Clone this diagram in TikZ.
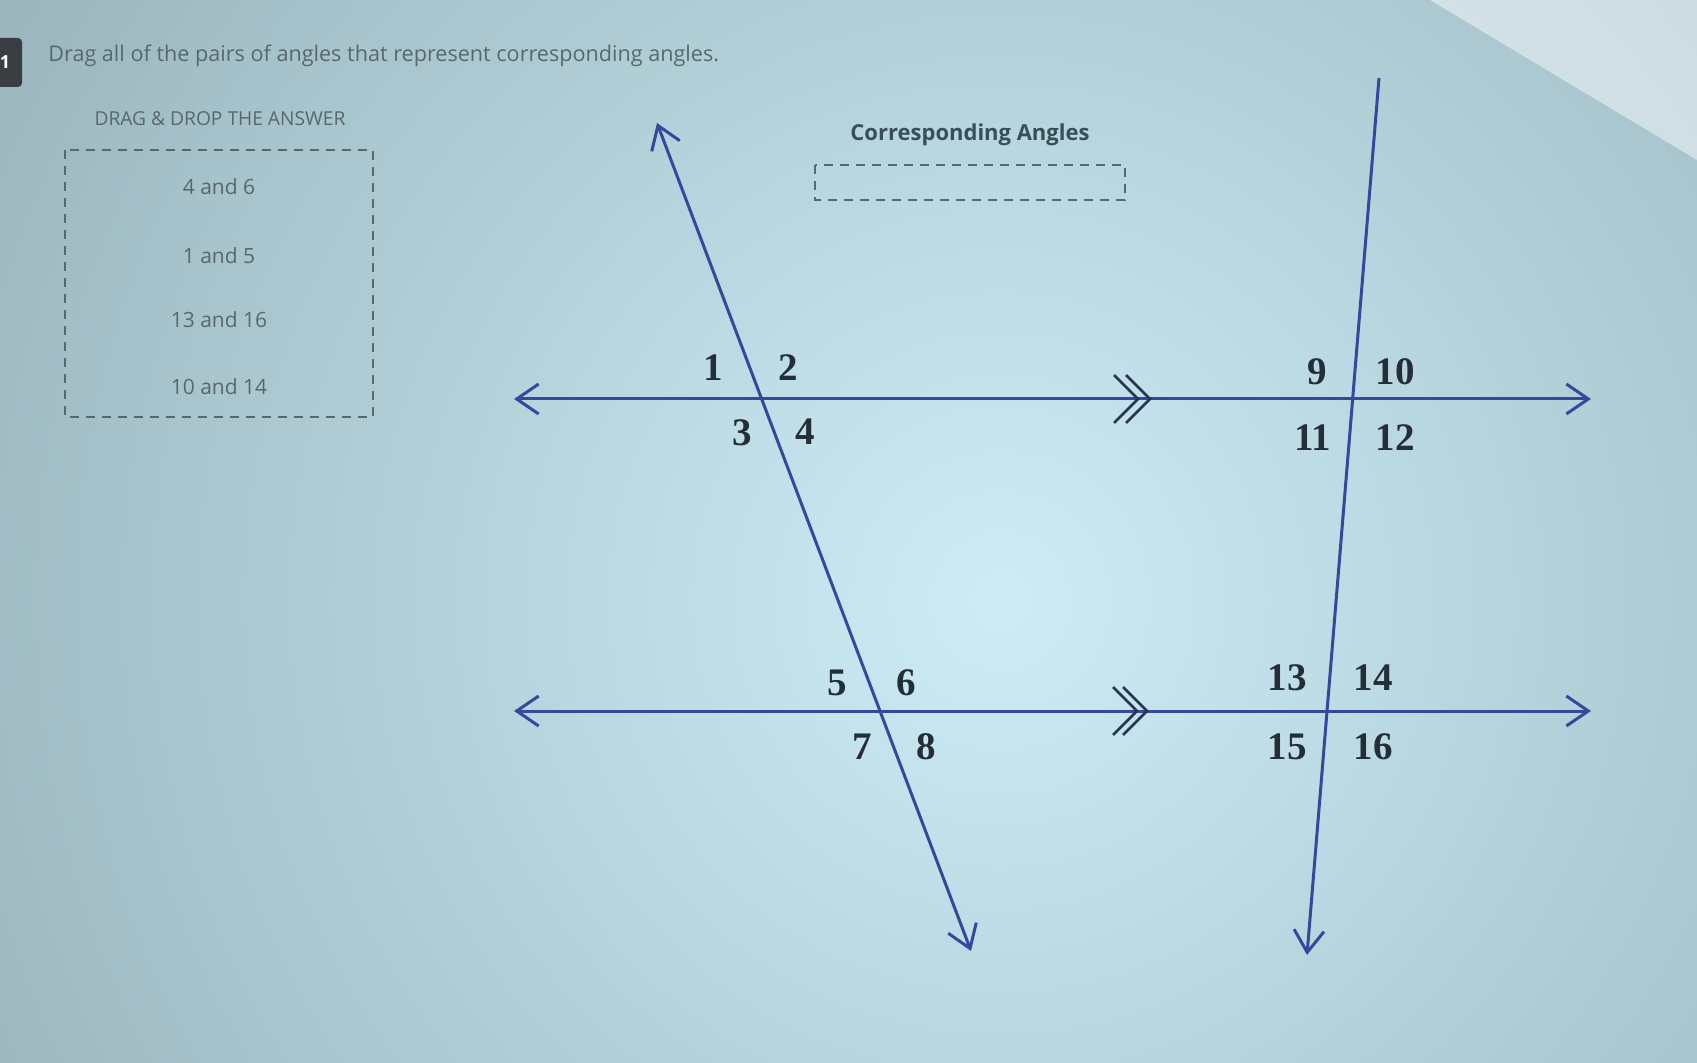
\documentclass[tikz,border=0pt]{standalone}
\usepackage{fontspec}
\setmainfont{Liberation Serif}
\newfontfamily\uifont{Open Sans}
\usetikzlibrary{arrows.meta}
\definecolor{lineblue}{RGB}{54,72,156}
\definecolor{bgout}{RGB}{144,170,177}
\definecolor{bgin}{RGB}{204,236,246}
\definecolor{uigray}{RGB}{88,104,110}
\definecolor{headink}{RGB}{58,78,88}
\definecolor{labelink}{RGB}{36,46,56}
\definecolor{tabdark}{RGB}{58,62,66}
\begin{document}
\begin{tikzpicture}[
        x=0.5pt, y=-0.5pt,
        barb/.tip={Straight Barb[length=11pt,width=15pt]},
        rule/.style={draw=lineblue, line width=1.5pt},
        ray/.style={rule, barb-barb},
        chev/.style={draw=labelink!75!lineblue, line width=1.4pt},
        dashbox/.style={draw=uigray, line width=0.7pt, dash pattern=on 4.5pt off 3.5pt},
        uitext/.style={text=uigray, font=\uifont\fontsize{10.8}{13}\selectfont, inner sep=0pt},
        item/.style={uitext, font=\uifont\fontsize{10.5}{12}\selectfont},
        heading/.style={text=headink, font=\uifont\bfseries\fontsize{11}{13}\selectfont, inner sep=0pt},
        num/.style={text=labelink, font=\bfseries\fontsize{19.5}{22}\selectfont, inner sep=0pt},
    ]
    % background
    \useasboundingbox (0,0) rectangle (1697,1063);
    \fill[bgout] (0,0) rectangle (1697,1063);
    \begin{scope}
        \clip (0,0) rectangle (1697,1063);
        \shade[inner color=bgin, outer color=bgout] (1000,600) circle (1400);
        \fill[white, opacity=0.45] (1430,0) -- (1697,0) -- (1697,160) -- cycle;
    \end{scope}

    % question header
    \fill[tabdark, rounded corners=2pt] (-10,38) rectangle (22,87);
    \node[text=white, font=\uifont\bfseries\small] (qnum) at (5,62) {1};
    \node[uitext, anchor=west] (title) at (48,56)
        {Drag all of the pairs of angles that represent corresponding angles.};

    % answer bank
    \node[uitext, font=\uifont\fontsize{9.6}{11}\selectfont] (bank) at (220,119) {DRAG \& DROP THE ANSWER};
    \draw[dashbox] (65,150) rectangle (373,417);
    \foreach \txt/\yy [count=\i] in {4 and 6/187, 1 and 5/256, 13 and 16/320, 10 and 14/387}
        \node[item] (ans\i) at (219,\yy) {\txt};

    % drop target
    \node[heading] (target) at (970,135) {Corresponding Angles};
    \draw[dashbox] (815,165) rectangle (1125,200);

    % lines
    \coordinate (topL) at (514,399);
    \coordinate (topR) at (1591,399);
    \coordinate (botL) at (514,711);
    \coordinate (botR) at (1591,711);
    \coordinate (tAup) at (657,123);
    \coordinate (tAdn) at (971,951);
    \coordinate (tBup) at (1379,78);
    \coordinate (tBdn) at (1307,955);
    \draw[ray] (topL) -- (topR);
    \draw[ray] (botL) -- (botR);
    \draw[ray] (tAup) -- (tAdn);
    \draw[rule, -barb] (tBup) -- (tBdn);

    % parallel marks
    \foreach \cx/\cy in {1138/399, 1150/399, 1137/711, 1147/711}
        \draw[chev] (\cx-24,\cy-24) -- (\cx,\cy) -- (\cx-24,\cy+24);

    % angle numbers
    \foreach \k/\lx/\ly in {1/713/368, 2/788/368, 3/742/433, 4/805/432,
                            5/837/683, 6/906/683, 7/862/747, 8/926/747,
                            9/1317/372, 10/1395/372, 11/1313/438, 12/1395/438,
                            13/1287/678, 14/1373/678, 15/1287/747, 16/1373/747}
        \node[num] (a\k) at (\lx,\ly) {\k};
\end{tikzpicture}
\end{document}
